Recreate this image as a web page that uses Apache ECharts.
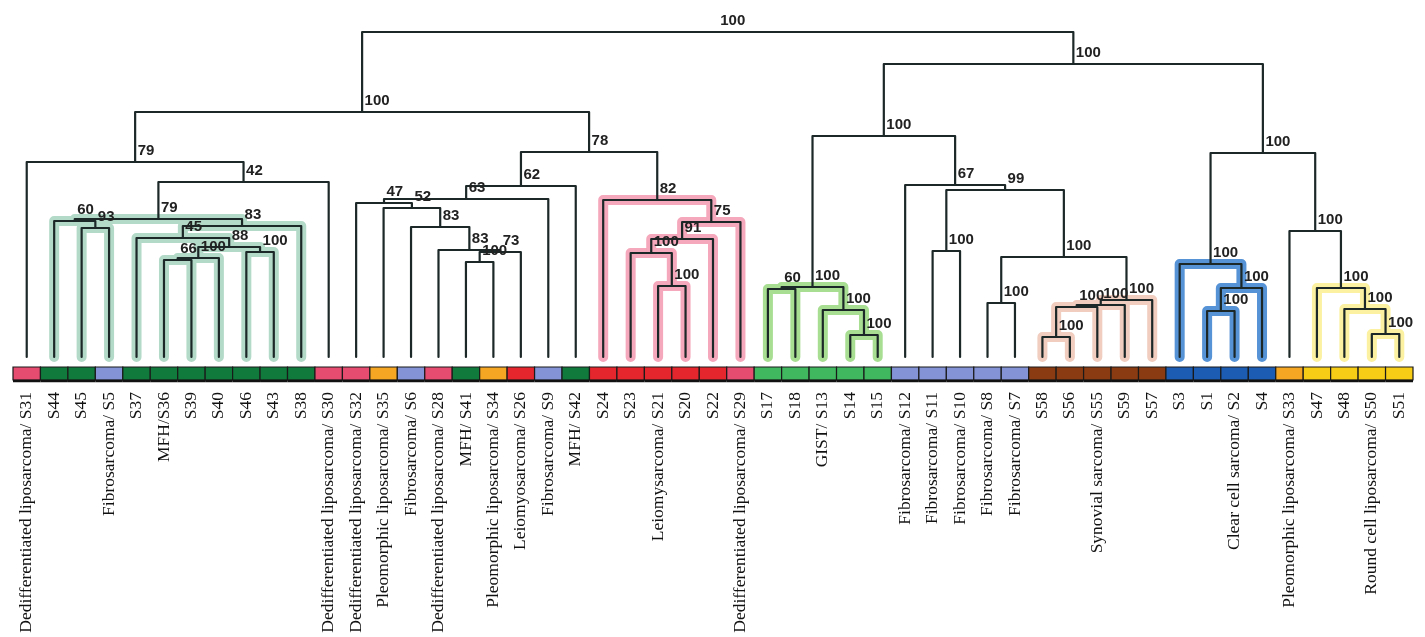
<!DOCTYPE html>
<html>
<head>
<meta charset="utf-8">
<script src="https://cdn.jsdelivr.net/npm/echarts@6/dist/echarts.min.js"></script>
<style>
  html, body { margin: 0; padding: 0; background: #fff; }
  #chart { width: 1425px; height: 637px; }
</style>
</head>
<body>
<div id="chart"></div>
<script>
// leaves, left to right
const leafNames = [
  'Dedifferentiated liposarcoma/ S31', 'S44', 'S45', 'Fibrosarcoma/ S5', 'S37', 'MFH/S36',
  'S39', 'S40', 'S46', 'S43', 'S38', 'Dedifferentiated liposarcoma/ S30',
  'Dedifferentiated liposarcoma/ S32', 'Pleomorphic liposarcoma/ S35', 'Fibrosarcoma/ S6',
  'Dedifferentiated liposarcoma/ S28', 'MFH/ S41', 'Pleomorphic liposarcoma/ S34',
  'Leiomyosarcoma/ S26', 'Fibrosarcoma/ S9', 'MFH/ S42', 'S24', 'S23', 'Leiomysarcoma/ S21',
  'S20', 'S22', 'Dedifferentiated liposarcoma/ S29', 'S17', 'S18', 'GIST/ S13', 'S14', 'S15',
  'Fibrosarcoma/ S12', 'Fibrosarcoma/ S11', 'Fibrosarcoma/ S10', 'Fibrosarcoma/ S8',
  'Fibrosarcoma/ S7', 'S58', 'S56', 'Synovial sarcoma/ S55', 'S59', 'S57', 'S3', 'S1',
  'Clear cell sarcoma/ S2', 'S4', 'Pleomorphic liposarcoma/ S33', 'S47', 'S48',
  'Round cell liposarcoma/ S50', 'S51'
]

const leafTypes = [
  'DDLPS', 'MFH', 'MFH', 'FS', 'MFH', 'MFH', 'MFH', 'MFH', 'MFH', 'MFH', 'MFH', 'DDLPS',
  'DDLPS', 'PLPS', 'FS', 'DDLPS', 'MFH', 'PLPS', 'LMS', 'FS', 'MFH', 'LMS', 'LMS', 'LMS',
  'LMS', 'LMS', 'DDLPS', 'GIST', 'GIST', 'GIST', 'GIST', 'GIST', 'FS', 'FS', 'FS', 'FS',
  'FS', 'SS', 'SS', 'SS', 'SS', 'SS', 'CCS', 'CCS', 'CCS', 'CCS', 'PLPS', 'RCLPS', 'RCLPS',
  'RCLPS', 'RCLPS'
]

// [node, left child, right child, merge height, bootstrap support]
// number = leaf index, string = earlier node
const merges = [
  ['g93', 2, 3, 129, 93],
  ['gA', 1, 'g93', 136, 60],
  ['g66', 5, 6, 97, 66],
  ['g100a', 'g66', 7, 99, 100],
  ['g100b', 8, 9, 105, 100],
  ['g88', 'g100a', 'g100b', 110, 88],
  ['g45', 4, 'g88', 119, 45],
  ['g83', 'g45', 10, 131, 83],
  ['g79', 'gA', 'g83', 138, 79],
  ['n42', 'g79', 11, 175, 42],
  ['n79', 0, 'n42', 195, 79],
  ['p100', 16, 17, 95, 100],
  ['p73', 'p100', 18, 105, 73],
  ['p83b', 15, 'p73', 107, 83],
  ['p83a', 14, 'p83b', 130, 83],
  ['p52', 13, 'p83a', 149, 52],
  ['p47', 12, 'p52', 154, 47],
  ['p63', 'p47', 19, 158, 63],
  ['p62', 'p63', 20, 171, 62],
  ['l100a', 23, 24, 71, 100],
  ['l100b', 22, 'l100a', 104, 100],
  ['l91', 'l100b', 25, 118, 91],
  ['l75', 'l91', 26, 135, 75],
  ['l82', 21, 'l75', 157, 82],
  ['n78', 'p62', 'l82', 205, 78],
  ['nL', 'n79', 'n78', 245, 100],
  ['t60', 27, 28, 68, 60],
  ['t100i', 30, 31, 22, 100],
  ['t100h', 29, 't100i', 47, 100],
  ['t100g', 't60', 't100h', 70, 100],
  ['f100j', 33, 34, 106, 100],
  ['f100l', 35, 36, 54, 100],
  ['s100', 37, 38, 20, 100],
  ['sP', 's100', 39, 50, 100],
  ['sQ', 'sP', 40, 52, 100],
  ['sR', 'sQ', 41, 57, 100],
  ['f100k', 'f100l', 'sR', 100, 100],
  ['f99', 'f100j', 'f100k', 167, 99],
  ['f67', 32, 'f99', 172, 67],
  ['m100', 't100g', 'f67', 221, 100],
  ['c1', 43, 44, 46, 100],
  ['c2', 'c1', 45, 69, 100],
  ['c3', 42, 'c2', 93, 100],
  ['r1', 49, 50, 23, 100],
  ['r2', 48, 'r1', 48, 100],
  ['r3', 47, 'r2', 69, 100],
  ['r4', 46, 'r3', 126, 100],
  ['cr', 'c3', 'r4', 204, 100],
  ['nR', 'm100', 'cr', 293, 100],
  ['root', 'nL', 'nR', 325, 100]
]

// clusters shaded on the tree
const clusterRoots = ['g79', 'l82', 't100g', 'sR', 'c3', 'r3']

const typeColors = {
  DDLPS: '#e64b70', MFH: '#0f7a3c', FS: '#8393d6', PLPS: '#f5a622', LMS: '#e6262d',
  GIST: '#3fb85f', SS: '#8a3b12', CCS: '#1c5cb3', RCLPS: '#f7cd16'
}
const clusterColors = ['#b3dac8', '#f5a7bb', '#a8de92', '#f0cdbf', '#5592d6', '#fbf1a0']

const nodes = {}
const pos = ref => typeof ref === 'number' ? { x: ref, h: 0 } : nodes[ref]
merges.forEach(([id, a, b, h, s]) => {
  const A = pos(a), B = pos(b)
  nodes[id] = { id, a, b, h, s, x: (A.x + B.x) / 2, A, B }
})

const shade = {}
clusterRoots.forEach((rootId, ci) => {
  const walk = ref => {
    if (typeof ref === 'number') return
    shade[ref] = ci
    walk(nodes[ref].a)
    walk(nodes[ref].b)
  }
  walk(rootId)
})

const treeData = merges.map(([id]) => {
  const n = nodes[id]
  return [n.A.x, n.A.h, n.B.x, n.B.h, n.h, shade[id] === undefined ? -1 : shade[id]]
})
const shadeData = treeData.filter(d => d[5] >= 0)

function elbow(api, stroke, width) {
  const p1 = api.coord([api.value(0), api.value(1)])
  const p2 = api.coord([api.value(0), api.value(4)])
  const p3 = api.coord([api.value(2), api.value(4)])
  const p4 = api.coord([api.value(2), api.value(3)])
  return {
    type: 'polyline',
    shape: { points: [p1, p2, p3, p4] },
    style: { stroke, lineWidth: width, fill: null, lineCap: 'round', lineJoin: 'round' }
  }
}

const chart = echarts.init(document.getElementById('chart'))
chart.setOption({
  animation: false,
  grid: { left: 13, right: 12, top: 27, bottom: 250 },
  xAxis: [
    { type: 'value', min: -0.5, max: 50.5, show: false },
    {
      type: 'category',
      data: leafNames,
      position: 'bottom',
      boundaryGap: true,
      axisLine: { show: false, onZero: false },
      axisTick: { show: false },
      splitLine: { show: false },
      axisLabel: {
        interval: 0,
        rotate: 90,
        margin: 5,
        fontFamily: 'Liberation Serif',
        fontSize: 17.5,
        color: '#111'
      }
    }
  ],
  yAxis: { type: 'value', min: -30, max: 330, show: false },
  series: [
    {
      type: 'custom',
      name: 'clusters',
      silent: true,
      z: 1,
      data: shadeData,
      renderItem: (params, api) => elbow(api, clusterColors[api.value(5)], 10)
    },
    {
      type: 'custom',
      name: 'tree',
      silent: true,
      z: 2,
      data: treeData,
      renderItem: (params, api) => elbow(api, '#1c2727', 2.2)
    },
    {
      type: 'custom',
      name: 'strip',
      silent: true,
      z: 3,
      data: leafTypes.map((t, i) => [i]),
      renderItem: (params, api) => {
        const i = api.value(0)
        const tl = api.coord([i - 0.5, -10])
        const br = api.coord([i + 0.5, -23])
        return {
          type: 'group',
          children: [
            {
              type: 'rect',
              shape: { x: tl[0], y: tl[1], width: br[0] - tl[0], height: br[1] - tl[1] },
              style: { fill: typeColors[leafTypes[i]], stroke: '#1a1a1a', lineWidth: 1.2 }
            },
            {
              type: 'line',
              shape: { x1: tl[0], y1: br[1] + 1, x2: br[0], y2: br[1] + 1 },
              style: { stroke: '#111', lineWidth: 2.5 }
            }
          ]
        }
      }
    },
    {
      type: 'scatter',
      name: 'support',
      silent: true,
      z: 4,
      symbolSize: 1,
      itemStyle: { color: 'rgba(0,0,0,0)', opacity: 1 },
      data: merges.map(([id]) => [nodes[id].x, nodes[id].h, nodes[id].s]),
      label: {
        show: true,
        position: [3, -18],
        formatter: p => p.value[2],
        fontFamily: 'Liberation Sans',
        fontWeight: 'bold',
        fontSize: 15,
        color: '#222'
      }
    }
  ]
})
</script>
</body>
</html>
